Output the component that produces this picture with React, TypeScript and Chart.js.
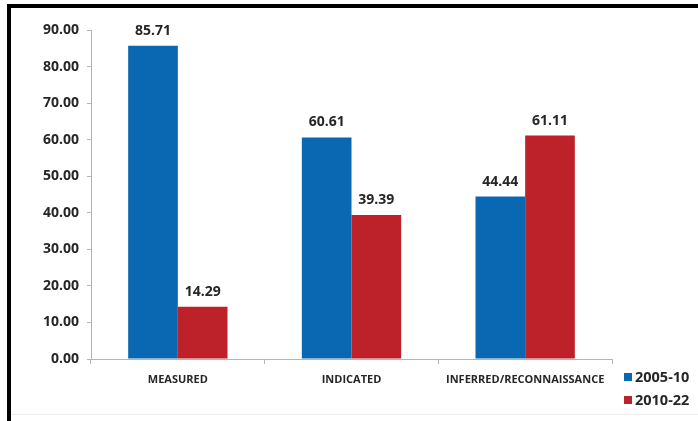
import { useEffect, useRef } from "react";
import { Chart, registerables } from "chart.js";

Chart.register(...registerables);

// Share of resources by category, per period
const categories = ["MEASURED", "INDICATED", "INFERRED/RECONNAISSANCE"];
const seriesLabels = ["2005-10", "2010-22"];
const values2005to10 = [85.71, 60.61, 44.44];
const values2010to22 = [14.29, 39.39, 61.11];
const yMin = 0;
const yMax = 90;
const yStep = 10;

const BLUE = "#0a67b1";
const RED = "#bd2129";
const TEXT = "#262626";
const FONT = "'Open Sans', 'DejaVu Sans', sans-serif";

// Writes each bar's value just above its top
const valueLabels = {
  id: "valueLabels",
  afterDatasetsDraw(chart: any) {
    const { ctx } = chart;
    ctx.save();
    ctx.font = `bold 14px ${FONT}`;
    ctx.fillStyle = TEXT;
    ctx.textAlign = "center";
    ctx.textBaseline = "alphabetic";
    chart.data.datasets.forEach((ds: any, i: number) => {
      const meta = chart.getDatasetMeta(i);
      meta.data.forEach((bar: any, j: number) => {
        ctx.fillText((ds.data[j] as number).toFixed(2), bar.x, bar.y - 11);
      });
    });
    ctx.restore();
  },
};

// Small square-swatch legend in the lower right corner
const cornerLegend = {
  id: "cornerLegend",
  afterDraw(chart: any) {
    const { ctx, chartArea } = chart;
    ctx.save();
    ctx.font = `bold 14.5px ${FONT}`;
    ctx.textBaseline = "middle";
    ctx.textAlign = "left";
    chart.data.datasets.forEach((ds: any, i: number) => {
      const x = chartArea.right + 12;
      const y = chartArea.bottom + 18 + i * 23;
      ctx.fillStyle = ds.backgroundColor;
      ctx.fillRect(x, y - 4, 8, 8);
      ctx.fillStyle = TEXT;
      ctx.fillText(ds.label, x + 11, y + 0.5);
    });
    ctx.restore();
  },
};

export default function App() {
  const canvasRef = useRef<HTMLCanvasElement | null>(null);

  useEffect(() => {
    if (!canvasRef.current) return;
    const chart = new Chart(canvasRef.current, {
      type: "bar",
      data: {
        labels: categories,
        datasets: [
          { label: seriesLabels[0], data: values2005to10, backgroundColor: BLUE },
          { label: seriesLabels[1], data: values2010to22, backgroundColor: RED },
        ],
      },
      options: {
        animation: false,
        responsive: true,
        maintainAspectRatio: false,
        layout: { padding: { left: 0, top: 30, right: 86, bottom: 0 } },
        datasets: {
          bar: { categoryPercentage: 0.572, barPercentage: 1, borderWidth: 0 },
        },
        plugins: {
          legend: { display: false },
          tooltip: { enabled: false },
        },
        scales: {
          x: {
            grid: {
              drawOnChartArea: false,
              drawTicks: true,
              tickLength: 5,
              color: "#b5b5b5",
              offset: true,
            },
            border: { color: "#b5b5b5", width: 1 },
            ticks: {
              color: TEXT,
              font: { family: FONT, size: 11, weight: "bold" },
              padding: 9,
              maxRotation: 0,
              autoSkip: false,
            },
            afterFit(scale: any) {
              scale.height = 62;
            },
          },
          y: {
            min: yMin,
            max: yMax,
            grid: {
              drawOnChartArea: false,
              drawTicks: true,
              tickLength: 4,
              color: "#b5b5b5",
            },
            border: { color: "#b5b5b5", width: 1 },
            ticks: {
              stepSize: yStep,
              color: TEXT,
              font: { family: FONT, size: 14, weight: "bold" },
              padding: 8,
              callback: (v: any) => Number(v).toFixed(2),
            },
            afterFit(scale: any) {
              scale.width = 91;
            },
          },
        },
      },
      plugins: [valueLabels, cornerLegend],
    });
    return () => chart.destroy();
  }, []);

  return (
    <div
      style={{
        position: "fixed",
        left: 0,
        top: 0,
        width: 698,
        height: 421,
        background: "#ffffff",
        overflow: "hidden",
      }}
    >
      <canvas ref={canvasRef} style={{ position: "absolute", left: 0, top: 0 }} />
      {/* frame: heavy black edge on top and left, faint line near the bottom */}
      <div
        style={{
          position: "absolute",
          left: 7,
          top: 4,
          right: 0,
          bottom: 0,
          borderTop: "4px solid #000",
          borderLeft: "4px solid #000",
          pointerEvents: "none",
        }}
      />
      <div
        style={{
          position: "absolute",
          left: 11,
          right: 0,
          top: 414,
          height: 1,
          background: "#ececec",
        }}
      />
    </div>
  );
}
